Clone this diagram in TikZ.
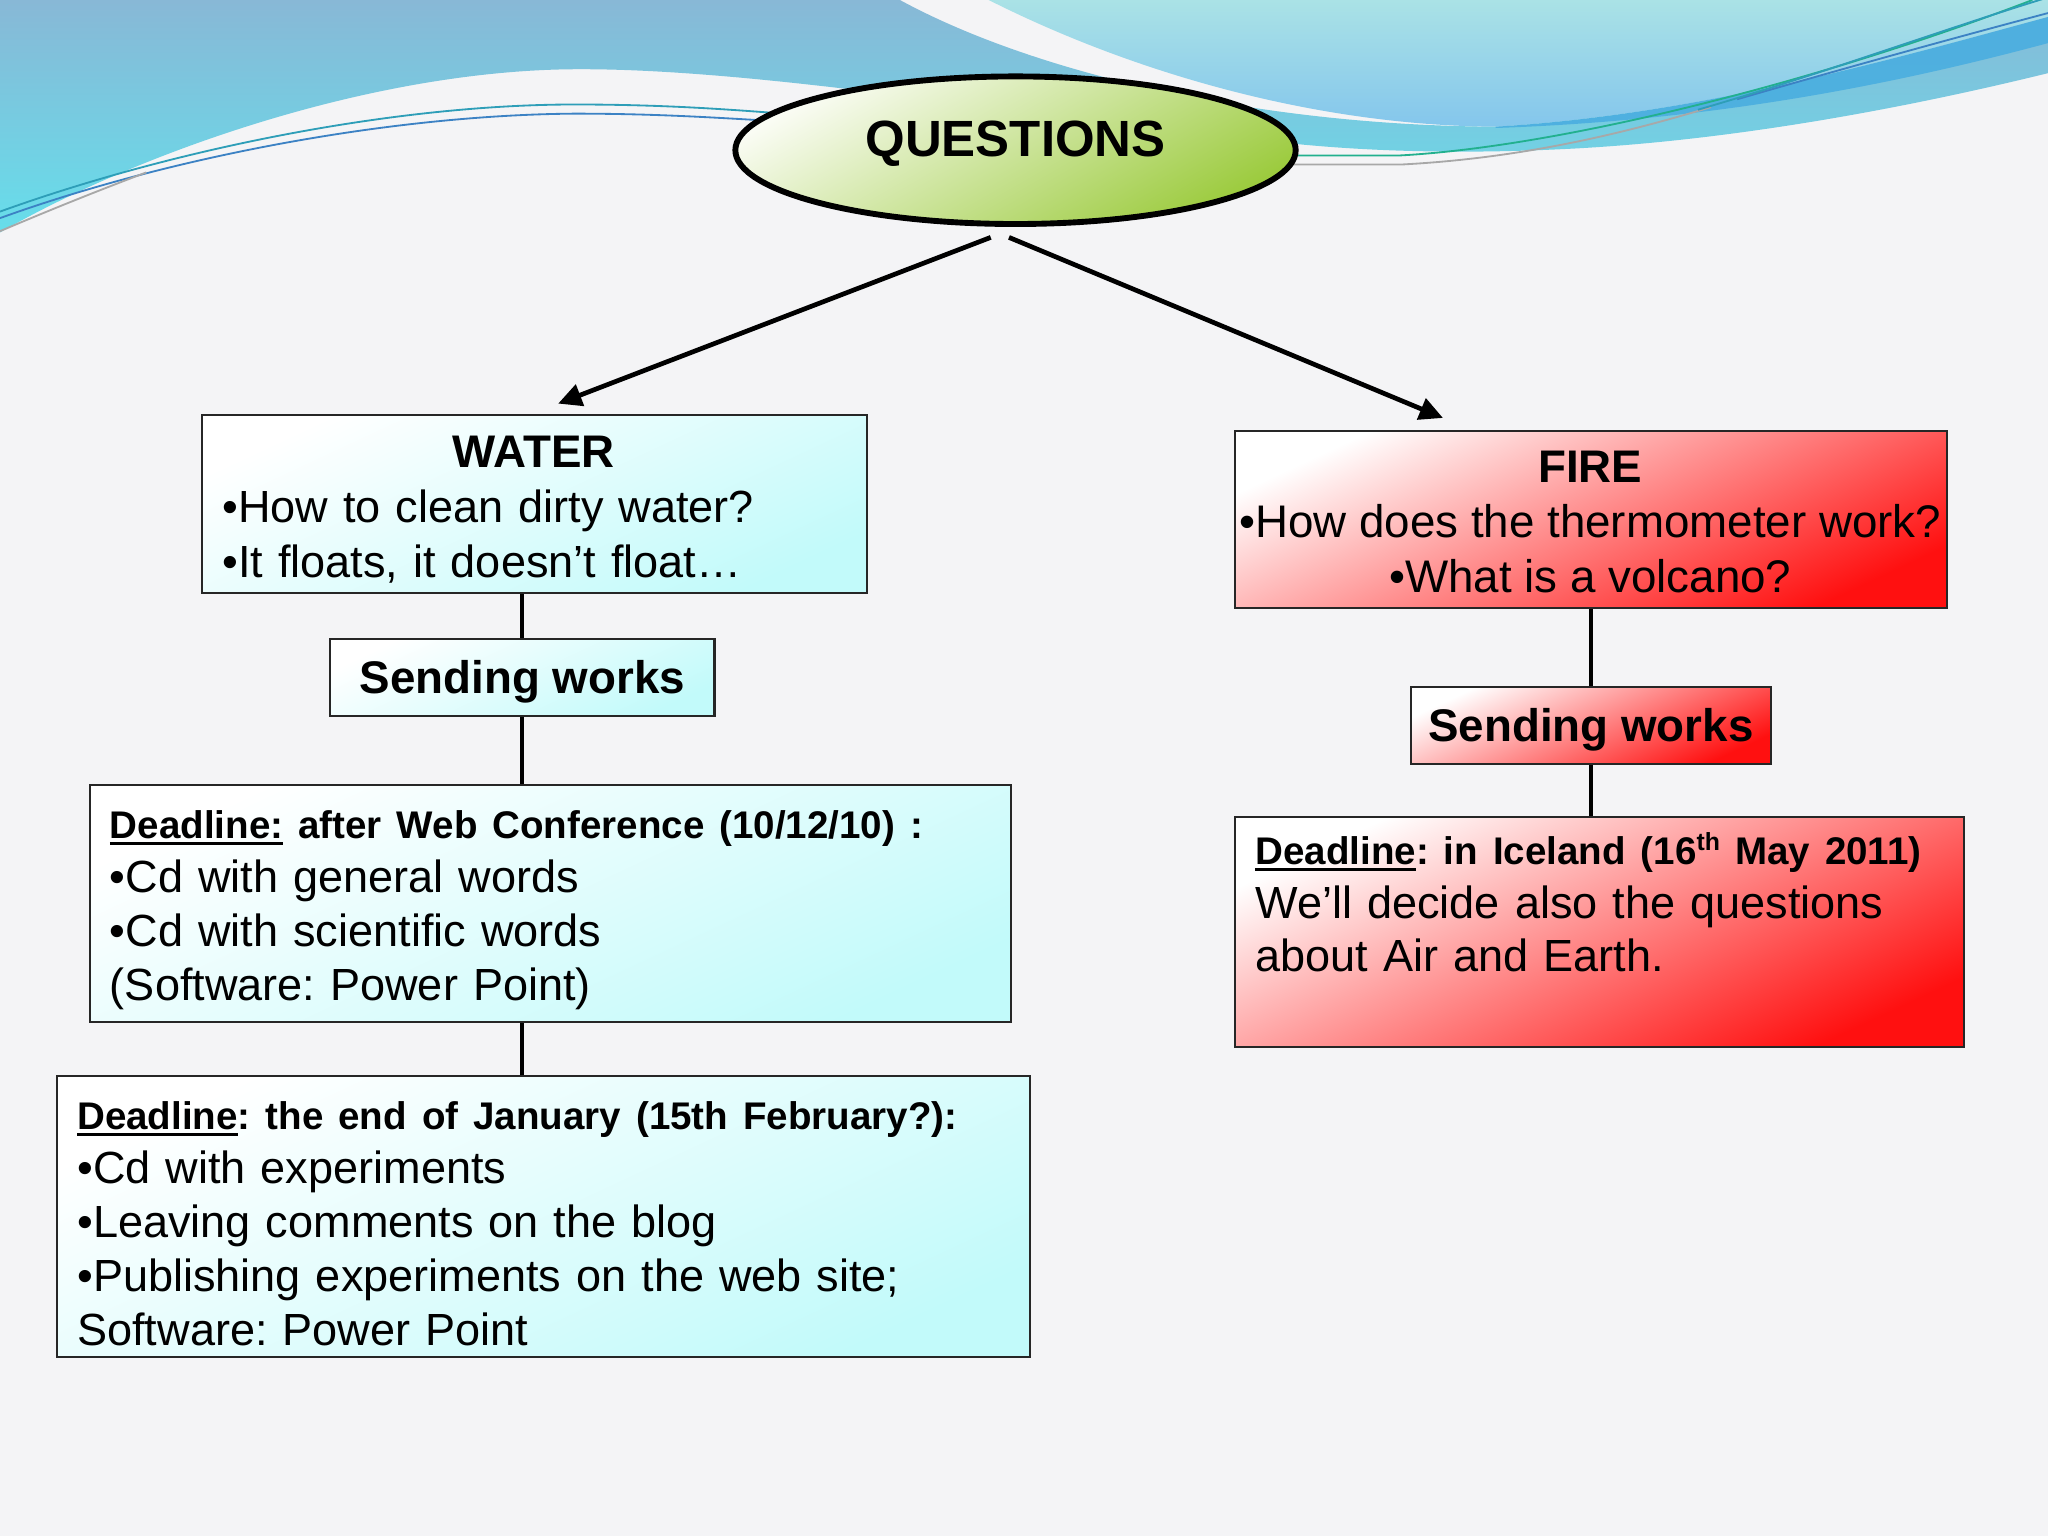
\documentclass[tikz,border=0pt]{standalone}
\usepackage{fontspec}
\setmainfont{Liberation Sans}
\usetikzlibrary{shapes.geometric,arrows.meta}
\definecolor{bgc}{HTML}{F4F4F6}
\definecolor{bandtop}{HTML}{88B8D6}
\definecolor{bandbot}{HTML}{66DEEB}
\definecolor{paleA}{HTML}{AAE2E6}
\definecolor{paleB}{HTML}{84C6EC}
\definecolor{swoosh}{HTML}{4AAEE0}
\definecolor{qtop}{HTML}{FAFCF4}
\definecolor{qbot}{HTML}{9CCB3E}
\definecolor{wcyan}{HTML}{C2FAFA}
\definecolor{fred}{HTML}{FF1010}
\definecolor{lteal}{HTML}{2E9EB8}
\definecolor{lblue}{HTML}{3C82C4}
\definecolor{lgreen}{HTML}{22B08E}
\definecolor{lgray}{HTML}{A8A8A8}
\definecolor{boxline}{HTML}{262626}
\frenchspacing
\newsavebox\ulbox
\newcommand\dlul[1]{\sbox\ulbox{#1}\rlap{\rule[-5pt]{\wd\ulbox}{2.6pt}}\usebox\ulbox}
\newcommand\supth{\raisebox{11pt}[0pt][0pt]{\fontsize{19}{19}\selectfont th}}
\tikzset{
  conn/.style={line width=3pt, draw=black},
  arr/.style={line width=3.6pt, draw=black, -{Triangle[length=18pt,width=17pt]}},
  waterbox/.style={rectangle, draw=boxline, line width=1.6pt, top color=white, bottom color=wcyan, shading angle=25, inner sep=0pt},
  firebox/.style={rectangle, draw=boxline, line width=1.6pt, top color=white, bottom color=fred, shading angle=25, inner sep=0pt},
  body/.style={inner sep=0pt, font=\fontsize{34.5}{42}\selectfont, align=left},
  dltext/.style={inner sep=0pt, font=\fontsize{34.5}{41.3}\selectfont, align=left},
  sendtxt/.style={font=\bfseries\fontsize{35}{42}\selectfont, text height=25pt, text depth=0pt},
  wline/.style={line width=1.4pt},
}
\begin{document}
\begin{tikzpicture}[x=1pt,y=-1pt]
\fill[bgc] (0,0) rectangle (1568,1176);
\useasboundingbox (0,0) rectangle (1568,1176);
% background waves
\shade[top color=paleA, bottom color=paleB]
  (757,0) .. controls (860,52) and (1000,96) .. (1145,97)
  .. controls (1300,88) and (1450,45) .. (1568,13) -- (1568,0) -- cycle;
\shade[top color=bandtop, bottom color=bandbot]
  (0,0) -- (689,0) .. controls (790,55) and (960,96) .. (1145,97)
  .. controls (1300,88) and (1450,45) .. (1568,13) -- (1568,56)
  .. controls (1450,85) and (1320,108) .. (1200,114)
  .. controls (1120,118) and (1050,116) .. (990,110)
  .. controls (850,100) and (600,52) .. (440,53)
  .. controls (280,54) and (100,120) .. (0,178) -- cycle;
\fill[swoosh, opacity=0.9] (1145,97) .. controls (1300,88) and (1450,45) .. (1568,13)
  -- (1568,33) .. controls (1460,62) and (1320,92) .. (1145,98) -- cycle;
\draw[wline, lteal] (0,162) .. controls (130,115) and (300,80) .. (440,80) .. controls (510,80) and (560,84) .. (600,87);
\draw[wline, lblue] (0,167) .. controls (130,120) and (300,88) .. (440,87) .. controls (510,87) and (560,91) .. (600,93);
\draw[wline, lgray] (0,177) .. controls (40,160) and (75,146) .. (112,132);
\draw[wline, lgray] (980,126) -- (1072,126) .. controls (1170,121) and (1250,100) .. (1310,82);
\draw[wline, lgreen] (980,119) -- (1072,119) .. controls (1200,112) and (1400,60) .. (1556,0);
\draw[wline, lblue] (1330,76) .. controls (1420,50) and (1500,28) .. (1568,10);
\draw[wline, lteal] (1300,84) .. controls (1400,55) and (1480,25) .. (1568,-2);
% title
\node[ellipse, draw=black, line width=4.5pt, minimum width=429pt, minimum height=113pt,
  top color=qtop, bottom color=qbot, shading angle=30, inner sep=0pt,
  font=\bfseries\fontsize{39}{39}\selectfont, text height=28pt, text depth=18pt] (q) at (777.5,115) {QUESTIONS};
% water branch
\node[waterbox, minimum width=509pt, minimum height=136pt, anchor=north west] (w) at (154,317) {};
\node[body, anchor=north west, text width=477pt] (wt) at (170,333.5)
  {\makebox[477pt]{\bfseries\fontsize{35}{42}\selectfont WATER}\\•How to clean dirty water?\\•It floats, it doesn’t float…};
\node[waterbox, sendtxt, minimum width=294pt, minimum height=59pt] (s1) at (400,518.5) {Sending works};
\node[waterbox, minimum width=705pt, minimum height=182pt, anchor=north west] (d1) at (68,600) {};
\node[dltext, anchor=north west, text width=680pt] (d1t) at (84,620.5)
  {{\bfseries\fontsize{29.5}{41.3}\selectfont \dlul{Deadline:} after Web Conference (10/12/10) :}\\
   •Cd with general words\\•Cd with scientific words\\(Software: Power Point)};
\node[waterbox, minimum width=745pt, minimum height=215pt, anchor=north west] (d2) at (43,823) {};
\node[dltext, anchor=north west, text width=720pt] (d2t) at (59,843.5)
  {{\bfseries\fontsize{29.5}{41.3}\selectfont \dlul{Deadline}: the end of January (15th February?):}\\
   •Cd with experiments\\•Leaving comments on the blog\\•Publishing experiments on the web site;\\Software: Power Point};
% fire branch
\node[firebox, minimum width=545pt, minimum height=136pt, anchor=north west] (f) at (945,329) {};
\node[body, anchor=north, align=center, font=\fontsize{35}{42}\selectfont] (ft) at (1217.5,345.5)
  {{\bfseries FIRE}\\•How does the thermometer work?\\•What is a volcano?};
\node[firebox, sendtxt, minimum width=276pt, minimum height=59pt] (s2) at (1218,555.5) {Sending works};
\node[firebox, minimum width=558pt, minimum height=176pt, anchor=north west] (d3) at (945,625) {};
\node[dltext, anchor=north west, text width=540pt, font=\fontsize{34.5}{41}\selectfont] (d3t) at (961,640.5)
  {{\bfseries\fontsize{29.5}{41}\selectfont \dlul{Deadline}: in Iceland (16\supth\ May 2011)}\\
   We’ll decide also the questions\\about Air and Earth.};
% connectors
\draw[arr] ([xshift=-19pt,yshift=-8pt]q.south) -- ([xshift=18pt,yshift=8pt]w.north);
\draw[arr] ([xshift=-5pt,yshift=-8pt]q.south) -- ([xshift=-113.5pt,yshift=9pt]f.north);
\draw[conn] (s1.north |- w.south) -- (s1.north);
\draw[conn] (s1.south) -- (s1.south |- d1.north);
\draw[conn] (s1.south |- d1.south) -- (s1.south |- d2.north);
\draw[conn] (s2.north |- f.south) -- (s2.north);
\draw[conn] (s2.south) -- (s2.south |- d3.north);
\end{tikzpicture}
\end{document}
